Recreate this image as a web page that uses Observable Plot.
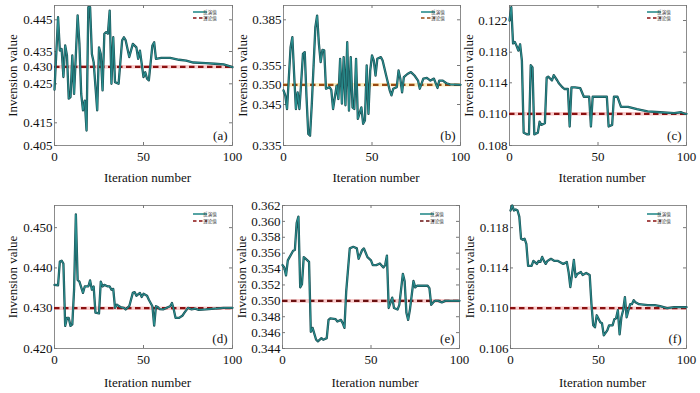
<!DOCTYPE html>
<html><head><meta charset="utf-8">
<script src="https://cdn.jsdelivr.net/npm/d3@7"></script>
<script src="https://cdn.jsdelivr.net/npm/@observablehq/plot@0.6"></script>
<style>
body{margin:0;background:#fff;}
#wrap{position:relative;width:700px;height:393px;overflow:hidden;background:#fff;}
.panel{position:absolute;}
.panel svg{overflow:visible;font-family:"Liberation Serif","Times New Roman",serif !important;}
.panel svg text{font-family:"Liberation Serif","Times New Roman",serif;}
.panel svg text.cjk{font-family:"Noto Sans CJK SC",sans-serif;}
</style></head><body><div id="wrap"></div>
<script>
// ---------- data ----------
const xTicks = [0, 50, 100];
const legendNames = ["反演值", "理论值"];
const xLabel = "Iteration number";
const yLabel = "Invension value";

const aIter = [0,2,3,4,5,6,7,8,9,10,11,13,14,15,16,17,18,19,20,21,22,24,25,26,27,28,29,30,31,32,33,34,36,38,39,40,42,44,46,47,48,50,51,52,53,55,56,57,60,65,70,74,78,85,90,95,100];
const aVal = [0.4235,0.4458,0.4353,0.4358,0.4270,0.4369,0.4337,0.4212,0.4216,0.4337,0.4224,0.4464,0.4374,0.4224,0.4182,0.4207,0.4116,0.4490,0.4490,0.4342,0.4315,0.4182,0.4363,0.4342,0.4233,0.4406,0.4411,0.4406,0.4479,0.4250,0.4395,0.4255,0.4250,0.4385,0.4395,0.4385,0.4332,0.4374,0.4363,0.4326,0.4353,0.4270,0.4284,0.4265,0.4260,0.4369,0.4379,0.4326,0.4329,0.4329,0.4323,0.4320,0.4314,0.4312,0.4310,0.4308,0.4299];
const aTrue = 0.430;
const aTicks = [0.405,0.415,0.425,0.430,0.435,0.445];

const bIter = [0,1,2,4,5,6,7,8,9,10,11,12,13,14,15,16,17,18,19,20,21,22,23,24,26,27,28,30,31,32,33,34,35,36,37,38,39,40,41,42,44,45,46,47,48,49,50,51,52,53,55,56,58,60,61,62,64,65,66,67,68,70,72,74,76,77,79,81,83,85,87,88,90,92,94,100];
const bVal = [0.3486,0.3473,0.3439,0.3670,0.3736,0.3528,0.3439,0.3481,0.3439,0.3507,0.3627,0.3638,0.3469,0.3378,0.3374,0.3452,0.3550,0.3802,0.3878,0.3692,0.3572,0.3653,0.3649,0.3490,0.3494,0.3487,0.3439,0.3498,0.3464,0.3594,0.3452,0.3605,0.3448,0.3703,0.3435,0.3605,0.3443,0.3439,0.3594,0.3415,0.3443,0.3403,0.3411,0.3550,0.3427,0.3537,0.3616,0.3583,0.3524,0.3594,0.3605,0.3583,0.3524,0.3486,0.3473,0.3490,0.3494,0.3537,0.3516,0.3481,0.3520,0.3528,0.3533,0.3524,0.3511,0.3490,0.3516,0.3518,0.3511,0.3516,0.3492,0.3511,0.3511,0.3504,0.3501,0.3500];
const bTrue = 0.350;
const bTicks = [0.335,0.345,0.350,0.355,0.385];

const cIter = [0,1,2,3,4,5,6,7,8,10,11,12,13,14,16,17,18,20,21,22,24,25,27,28,30,31,33,34,35,37,40,42,45,46,47,53,55,56,58,59,61,63,67,72,78,85,93,97,99,100];
const cVal = [0.1220,0.1237,0.1191,0.1193,0.1188,0.1182,0.1190,0.1169,0.1088,0.1087,0.1087,0.1163,0.1160,0.1087,0.1088,0.1095,0.1093,0.1094,0.1147,0.1148,0.1143,0.1150,0.1143,0.1139,0.1134,0.1132,0.1132,0.1092,0.1134,0.1134,0.1133,0.1122,0.1122,0.1092,0.1122,0.1122,0.1122,0.1092,0.1093,0.1122,0.1122,0.1109,0.1109,0.1106,0.1103,0.1102,0.1101,0.1102,0.1100,0.1100];
const cTrue = 0.110;
const cTicks = [0.108,0.110,0.114,0.118,0.122];

const dIter = [0,2,3,4,5,6,7,8,9,10,11,12,13,14,16,17,19,20,21,22,23,25,26,27,28,30,31,32,33,34,35,37,39,40,42,44,45,46,48,49,50,52,53,55,56,57,58,59,61,63,65,66,67,68,70,72,73,75,77,79,81,85,90,95,100];
const dVal = [0.4358,0.4357,0.4416,0.4418,0.4411,0.4256,0.4276,0.4276,0.4256,0.4260,0.4346,0.4533,0.4370,0.4366,0.4338,0.4354,0.4354,0.4369,0.4346,0.4354,0.4289,0.4287,0.4366,0.4354,0.4358,0.4354,0.4354,0.4346,0.4348,0.4301,0.4309,0.4303,0.4301,0.4297,0.4305,0.4338,0.4340,0.4331,0.4338,0.4328,0.4336,0.4331,0.4321,0.4305,0.4257,0.4305,0.4303,0.4298,0.4297,0.4301,0.4305,0.4313,0.4297,0.4276,0.4276,0.4282,0.4289,0.4301,0.4297,0.4299,0.4296,0.4297,0.4299,0.4301,0.4301];
const dTrue = 0.430;
const dTicks = [0.420,0.430,0.440,0.450];

const eIter = [0,1,2,3,4,6,7,8,9,10,11,12,13,15,16,17,19,20,22,23,25,26,27,30,31,33,34,35,36,38,40,42,43,45,46,48,50,51,53,55,57,58,59,60,62,63,65,66,68,69,70,71,72,74,75,76,82,83,84,86,88,90,92,95,100];
const eVal = [0.3545,0.3542,0.3532,0.3551,0.3555,0.3563,0.3564,0.3598,0.3606,0.3517,0.3521,0.3555,0.3553,0.3549,0.3461,0.3466,0.3451,0.3449,0.3453,0.3451,0.3453,0.3476,0.3478,0.3477,0.3474,0.3476,0.3472,0.3466,0.3512,0.3566,0.3568,0.3566,0.3553,0.3564,0.3566,0.3555,0.3551,0.3545,0.3545,0.3547,0.3542,0.3545,0.3557,0.3491,0.3504,0.3491,0.3489,0.3495,0.3534,0.3525,0.3485,0.3476,0.3489,0.3525,0.3517,0.3519,0.3519,0.3516,0.3495,0.3500,0.3500,0.3498,0.3500,0.3500,0.3500];
const eTrue = 0.350;
const eTicks = [0.344,0.346,0.348,0.350,0.352,0.354,0.356,0.358,0.360,0.362];

const fIter = [0,1,2,3,4,5,6,7,8,9,10,12,13,15,16,17,18,19,20,21,23,25,27,28,30,32,33,34,35,36,37,38,40,41,43,45,46,47,48,49,51,52,53,55,56,58,59,60,61,62,63,64,65,66,67,68,69,70,71,73,78,82,85,89,93,100];
const fVal = [0.1197,0.1202,0.1197,0.1198,0.1197,0.1191,0.1169,0.1168,0.1169,0.1164,0.1142,0.1142,0.1147,0.1144,0.1147,0.1146,0.1151,0.1147,0.1144,0.1147,0.1149,0.1147,0.1147,0.1146,0.1144,0.1146,0.1136,0.1121,0.1134,0.1148,0.1131,0.1134,0.1136,0.1133,0.1135,0.1133,0.1104,0.1083,0.1081,0.1093,0.1086,0.1085,0.1073,0.1078,0.1083,0.1083,0.1089,0.1090,0.1098,0.1074,0.1091,0.1098,0.1111,0.1091,0.1098,0.1104,0.1104,0.1108,0.1106,0.1104,0.1103,0.1103,0.1102,0.1100,0.1101,0.1101];
const fTrue = 0.110;
const fTicks = [0.106,0.110,0.114,0.118];

// ---------- layout / style config ----------
const panels = [
  {id:"a", iter:aIter, val:aVal, truth:aTrue, ticks:aTicks, left:0,   top:0,   width:240, height:190, mL:54, mR:8,  mT:5,  mB:45,
   yDomain:[0.405,0.415,0.425,0.430,0.435,0.445,0.4495], yRange:[145,122.3,83.3,66.3,51,19.3,5], ylDx:-42, xlDy:32, lg:[7,13], dash:"#8b1010", halo:"#f08080"},
  {id:"b", iter:bIter, val:bVal, truth:bTrue, ticks:bTicks, left:230, top:0,   width:235, height:190, mL:53, mR:5,  mT:5,  mB:45,
   yDomain:[0.335,0.345,0.350,0.355,0.385,0.3944], yRange:[145,104,84.3,65,19.3,5], ylDx:-41, xlDy:32, lg:[7,13], dash:"#9a4a12", halo:"#f4d060"},
  {id:"c", iter:cIter, val:cVal, truth:cTrue, ticks:cTicks, left:460, top:0,   width:240, height:190, mL:49, mR:14, mT:5,  mB:45,
   yDomain:[0.108,0.110,0.114,0.118,0.122,0.1239], yRange:[145,113.3,82.3,51.7,20,5], ylDx:-41, xlDy:32, lg:[7,13], dash:"#8b1010", halo:"#f08080"},
  {id:"d", iter:dIter, val:dVal, truth:dTrue, ticks:dTicks, left:0,   top:190, width:240, height:203, mL:54, mR:8,  mT:15, mB:45,
   yDomain:[0.420,0.4555], yRange:[158,15], ylDx:-42, xlDy:34, lg:[9,16], dash:"#8b1010", halo:"#f08080"},
  {id:"e", iter:eIter, val:eVal, truth:eTrue, ticks:eTicks, left:230, top:190, width:235, height:203, mL:52, mR:6,  mT:15, mB:45,
   yDomain:[0.344,0.362], yRange:[158,15], ylDx:-41, xlDy:34, lg:[9,16], dash:"#6a1010", halo:"#f08080"},
  {id:"f", iter:fIter, val:fVal, truth:fTrue, ticks:fTicks, left:460, top:190, width:240, height:203, mL:50, mR:14, mT:15, mB:45,
   yDomain:[0.106,0.1202], yRange:[158,15], ylDx:-41, xlDy:34, lg:[9,16], dash:"#8b1010", halo:"#f08080"}
];

const wrap = document.getElementById("wrap");
const serif = "Liberation Serif";
const fs = 13;

for (const p of panels) {
  const data = p.iter.map((x, i) => ({x, y: p.val[i]}));
  const pw = p.width - p.mL - p.mR;
  const ph = p.height - p.mT - p.mB;
  const chart = Plot.plot({
    width: p.width, height: p.height,
    marginLeft: p.mL, marginRight: p.mR, marginTop: p.mT, marginBottom: p.mB,
    style: {fontFamily: serif, fontSize: fs + "px", background: "transparent", color: "#111"},
    x: {domain: [0, 100], label: null},
    y: {type: "linear", domain: p.yDomain, range: p.yRange, label: null, clamp: false},
    marks: [
      Plot.frame({stroke: "#8c8c8c", strokeWidth: 1}),
      // inward ticks
      Plot.ruleY(p.ticks, {y: d => d, insetRight: pw - 3, stroke: "#777"}),
      Plot.ruleY(p.ticks, {y: d => d, insetLeft: pw - 3, stroke: "#777"}),
      Plot.ruleX(xTicks, {x: d => d, insetBottom: ph - 3, stroke: "#777"}),
      Plot.ruleX(xTicks, {x: d => d, insetTop: ph - 3, stroke: "#777"}),
      // true value
      Plot.ruleY([p.truth], {stroke: p.halo, strokeWidth: 3.6, strokeOpacity: 0.4}),
      Plot.ruleY([p.truth], {stroke: p.dash, strokeWidth: 2.2, strokeDasharray: "5.5,3.5"}),
      // inverted value
      Plot.line(data, {x: "x", y: "y", stroke: "#1d5054", strokeWidth: 2.3, strokeLinejoin: "round"}),
      Plot.line(data, {x: "x", y: "y", stroke: "#2a9a9a", strokeWidth: 0.9, strokeLinejoin: "round"}),
      Plot.axisX(xTicks, {tickSize: 0, tickPadding: 6, label: null, fontSize: fs, fontFamily: serif}),
      Plot.axisY(p.ticks, {tickSize: 0, tickPadding: 2, tickFormat: d3.format(".3f"), label: null, fontSize: fs, fontFamily: serif}),
      Plot.text([yLabel], {frameAnchor: "left", dx: p.ylDx, rotate: -90, fontSize: fs, fontFamily: serif, fill: "#111", textAnchor: "middle", lineAnchor: "middle"}),
      Plot.text([xLabel], {frameAnchor: "bottom", dx: 4, dy: p.xlDy, fontSize: fs, fontFamily: serif, fill: "#111", lineAnchor: "middle"}),
      Plot.text([`(${p.id})`], {frameAnchor: "bottom-right", dx: -5, dy: -6, fontSize: fs, fontFamily: serif, fill: "#111"})
    ]
  });
  const div = document.createElement("div");
  div.className = "panel";
  div.style.left = p.left + "px";
  div.style.top = p.top + "px";
  div.appendChild(chart);
  wrap.appendChild(div);

  // legend (inside frame, top right)
  const svg = d3.select(chart);
  const R = p.width - p.mR, T = p.mT;
  const g = svg.append("g");
  g.append("line").attr("x1", R - 39).attr("x2", R - 25).attr("y1", T + p.lg[0]).attr("y2", T + p.lg[0])
    .attr("stroke", "#2a8c8c").attr("stroke-width", 1.6);
  g.append("line").attr("x1", R - 39).attr("x2", R - 25).attr("y1", T + p.lg[1]).attr("y2", T + p.lg[1])
    .attr("stroke", p.dash).attr("stroke-width", 1.6).attr("stroke-dasharray", "3.5,2.5");
  legendNames.forEach((name, i) => {
    g.append("text").attr("class", "cjk").attr("x", R - 22).attr("y", T + p.lg[i]).attr("dy", "0.35em")
      .attr("font-size", 4.5).attr("fill", "#333").text(name);
  });
}
</script></body></html>
